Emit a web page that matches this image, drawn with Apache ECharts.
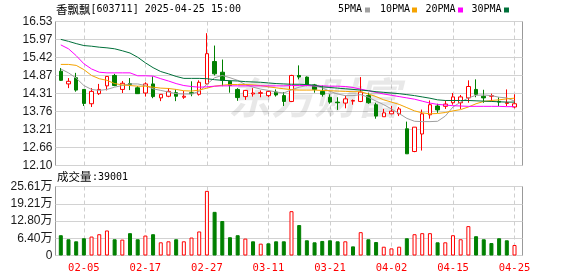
<!DOCTYPE html>
<html><head><meta charset="utf-8">
<script src="https://cdn.jsdelivr.net/npm/echarts@6/dist/echarts.min.js"></script>
<style>html,body{margin:0;padding:0;background:#fff}#c{width:578px;height:276px}</style>
</head><body><div id="c"></div><script>
const dates = ['01-23','01-24','01-27','02-05','02-06','02-07','02-10','02-11','02-12','02-13','02-14','02-17','02-18','02-19','02-20','02-21','02-24','02-25','02-26','02-27','02-28','03-03','03-04','03-05','03-06','03-07','03-10','03-11','03-12','03-13','03-14','03-17','03-18','03-19','03-20','03-21','03-24','03-25','03-26','03-27','03-28','03-31','04-01','04-02','04-03','04-07','04-08','04-09','04-10','04-11','04-14','04-15','04-16','04-17','04-18','04-21','04-22','04-23','04-24','04-25'];
const opens  = [15.00,14.61,14.80,14.44,14.00,14.31,14.55,14.87,14.44,14.62,14.49,14.33,14.61,14.18,14.23,14.34,14.20,14.34,14.29,14.61,15.30,14.97,14.69,14.44,14.22,14.30,14.32,14.25,14.36,14.25,14.07,14.87,14.82,14.58,14.38,14.20,14.05,14.02,14.08,14.07,14.25,13.97,13.60,13.69,13.69,13.23,12.53,13.07,13.66,13.93,13.92,14.03,14.03,14.18,14.44,14.23,14.23,14.07,14.01,13.90];
const closes = [14.72,14.69,14.42,14.01,14.38,14.44,14.84,14.56,14.63,14.59,14.31,14.61,14.22,14.29,14.38,14.23,14.23,14.31,14.66,15.54,14.92,14.72,14.56,14.19,14.41,14.33,14.34,14.38,14.27,14.07,14.87,14.82,14.59,14.44,14.29,14.05,14.03,14.15,14.10,14.36,14.03,13.62,13.72,13.77,13.84,12.46,13.28,13.69,13.97,13.81,13.99,14.21,14.21,14.53,14.29,14.18,14.25,14.05,14.03,14.00];
const lows   = [14.70,14.48,14.37,13.93,13.90,14.27,14.41,14.54,14.33,14.42,14.30,14.22,14.17,14.08,14.20,14.08,14.15,14.23,14.25,14.58,14.87,14.54,14.34,14.09,14.12,14.22,14.20,14.20,14.22,13.93,14.05,14.75,14.54,14.34,14.22,14.00,13.81,13.86,13.97,14.05,14.00,13.54,13.60,13.69,13.62,12.46,12.51,12.56,13.54,13.72,13.84,13.97,13.84,14.03,14.20,14.03,14.07,13.93,13.93,13.86];
const highs  = [15.10,14.79,14.95,14.45,14.48,14.61,14.85,14.92,14.70,14.79,14.54,14.66,14.84,14.30,14.48,14.44,14.39,14.69,14.72,16.17,15.79,15.36,14.70,14.48,14.42,14.48,14.41,14.41,14.44,14.36,14.89,15.18,14.84,14.61,14.56,14.29,14.20,14.25,14.13,14.82,14.34,14.03,13.84,13.93,13.90,13.45,13.28,13.82,14.10,14.00,14.10,14.33,14.27,14.72,14.75,14.43,14.31,14.20,14.44,14.29];
const ma5  = [15.07,14.95,14.79,14.56,14.44,14.41,14.44,14.51,14.56,14.61,14.61,14.56,14.46,14.41,14.36,14.31,14.30,14.30,14.38,14.60,14.80,14.87,14.80,14.72,14.59,14.51,14.45,14.41,14.36,14.33,14.43,14.51,14.56,14.55,14.49,14.38,14.30,14.25,14.25,14.28,14.20,14.08,13.97,13.84,13.70,13.55,13.46,13.45,13.45,13.46,13.62,13.90,14.05,14.18,14.26,14.27,14.25,14.20,14.18,14.08];
const ma10 = [15.21,15.21,15.18,15.05,14.87,14.77,14.72,14.62,14.58,14.56,14.54,14.54,14.51,14.48,14.47,14.44,14.40,14.39,14.42,14.48,14.54,14.57,14.59,14.59,14.59,14.58,14.56,14.52,14.49,14.46,14.43,14.42,14.42,14.42,14.41,14.40,14.39,14.38,14.37,14.37,14.30,14.22,14.12,14.05,13.98,13.88,13.78,13.72,13.69,13.70,13.73,13.78,13.82,13.90,14.00,14.07,14.10,14.12,14.15,14.17];
const ma20 = [15.81,15.69,15.48,15.23,15.07,14.97,14.95,14.95,14.95,14.95,14.86,14.86,14.85,14.77,14.70,14.62,14.56,14.53,14.51,14.52,14.54,14.55,14.55,14.55,14.55,14.55,14.55,14.55,14.55,14.55,14.56,14.56,14.56,14.55,14.55,14.54,14.54,14.53,14.50,14.45,14.40,14.35,14.30,14.26,14.22,14.18,14.14,14.08,14.02,13.98,13.96,13.94,13.93,13.92,13.92,13.92,13.92,13.92,13.91,13.91];
const ma30 = [15.98,15.92,15.85,15.79,15.77,15.74,15.72,15.69,15.63,15.56,15.43,15.26,15.11,14.99,14.92,14.84,14.78,14.78,14.78,14.77,14.74,14.72,14.71,14.70,14.68,14.67,14.66,14.64,14.62,14.61,14.60,14.60,14.59,14.57,14.52,14.50,14.48,14.46,14.44,14.42,14.40,14.37,14.35,14.33,14.31,14.28,14.25,14.21,14.17,14.12,14.10,14.10,14.10,14.10,14.09,14.08,14.07,14.06,14.05,14.05];
const volumes = [75300,60300,52700,64000,70300,79000,92900,60300,59000,82900,60300,74000,79000,49000,52700,60300,52700,66600,89200,239900,162000,128000,67800,75300,62800,52700,44000,45200,52700,52700,164500,113000,56500,49000,54000,56500,52700,52700,33900,86600,60300,50000,32600,26400,32600,64000,79000,82900,82900,49000,49000,75300,60300,109000,71600,60300,46300,64000,56500,39001];
const volUp = [0,0,0,0,1,1,1,0,1,0,0,1,0,1,1,0,1,1,1,1,0,0,0,0,1,0,1,0,0,0,1,0,0,0,0,0,0,1,0,1,0,0,1,1,1,0,1,1,1,0,1,1,1,1,0,0,0,0,0,1];
const priceTicks = ['12.10','12.66','13.21','13.76','14.31','14.87','15.42','15.97','16.53'];
const volTicks = ['0','6.40万','12.80万','19.21万','25.61万'];
const priceMin = 12.10, priceMax = 16.53, volMax = 256100;
const titleName = '香飘飘', titleRest = '[603711] 2025-04-25 15:00';
const maNames = ['5PMA','10PMA','20PMA','30PMA'];
const maColors = ['#a0a0a0','#f5a300','#ff00ff','#00703a'];
const maData = [ma5, ma10, ma20, ma30];

const RED = '#ff0000', GREEN = '#008000';
const mono = 'DejaVu Sans Mono';
const cjk = 'Noto Sans CJK SC';
const labelInterval = (i) => i % 8 === 3;

const chart = echarts.init(document.getElementById('c'), null, {renderer: 'canvas'});

const legendGraphics = [];
const legendX = [338, 380, 425.4, 471.5];
const swatchX = [365, 412, 458, 504];
maNames.forEach((n, k) => {
  legendGraphics.push({type: 'text', x: legendX[k], y: 9.5, style: {text: n, font: '10px "' + mono + '"', fill: '#000', verticalAlign: 'middle'}});
  legendGraphics.push({type: 'rect', shape: {x: swatchX[k], y: 7.5, width: 5, height: 5}, style: {fill: maColors[k]}});
});

chart.setOption({
  animation: false,
  backgroundColor: '#fff',
  graphic: [
    {type: 'text', x: 56, y: 9.5, style: {text: titleName, font: '11.5px "' + cjk + '"', fill: '#000', verticalAlign: 'middle'}},
    {type: 'text', x: 90.5, y: 9.5, style: {text: titleRest, font: '10px "' + mono + '"', fill: '#000', verticalAlign: 'middle'}},
    {type: 'text', x: 57, y: 177, style: {text: '成交量', font: '11.5px "' + cjk + '"', fill: '#000', verticalAlign: 'middle'}},
    {type: 'text', x: 92, y: 177, style: {text: ':' + volumes[volumes.length - 1], font: '10px "' + mono + '"', fill: '#000', verticalAlign: 'middle'}},
    {type: 'text', x: 228, y: 98, z: 1, style: {text: '东方财富', font: 'italic bold 43px "' + cjk + '"', fill: 'rgba(0,0,0,0.09)', verticalAlign: 'middle'}},
    ...legendGraphics
  ],
  grid: [
    {left: 55.5, top: 21.5, width: 467, height: 144, show: true, borderColor: '#999', borderWidth: 1, backgroundColor: 'transparent'},
    {left: 60.8, top: 21.5, width: 453.7, height: 144},
    {left: 55.5, top: 186.5, width: 467, height: 69, show: true, borderColor: '#999', borderWidth: 1, backgroundColor: 'transparent'},
    {left: 60.8, top: 186.5, width: 453.7, height: 69}
  ],
  xAxis: [
    {gridIndex: 0, type: 'value', min: 0, max: 1, show: false},
    {gridIndex: 1, type: 'category', data: dates, boundaryGap: false,
      axisLine: {show: false}, axisTick: {show: false}, axisLabel: {show: false},
      splitLine: {show: true, interval: labelInterval, lineStyle: {color: '#cfcfcf', type: [4, 3], width: 1}}},
    {gridIndex: 2, type: 'value', min: 0, max: 1, show: false},
    {gridIndex: 3, type: 'category', data: dates, boundaryGap: false,
      axisLine: {show: false}, axisTick: {show: false},
      axisLabel: {show: true, interval: labelInterval, color: RED, fontFamily: mono, fontSize: 10.5, margin: 7},
      splitLine: {show: true, interval: labelInterval, lineStyle: {color: '#cfcfcf', type: [4, 3], width: 1}}}
  ],
  yAxis: [
    {gridIndex: 0, type: 'value', min: 0, max: priceTicks.length - 1, interval: 1,
      axisLine: {show: false}, axisTick: {show: false},
      axisLabel: {formatter: (v) => priceTicks[Math.round(v)], color: '#1a1a1a', fontFamily: 'Liberation Sans', fontSize: 12, margin: 3},
      splitLine: {show: true, lineStyle: {color: '#d2d2d2', width: 1}}},
    {gridIndex: 1, type: 'value', min: priceMin, max: priceMax, show: false, scale: true},
    {gridIndex: 2, type: 'value', min: 0, max: volTicks.length - 1, interval: 1,
      axisLine: {show: false}, axisTick: {show: false},
      axisLabel: {formatter: (v) => volTicks[Math.round(v)], color: '#1a1a1a', fontFamily: 'Liberation Sans, "Noto Sans CJK SC"', fontSize: 12, margin: 3},
      splitLine: {show: true, lineStyle: {color: '#d2d2d2', width: 1}}},
    {gridIndex: 3, type: 'value', min: 0, max: volMax, show: false}
  ],
  series: [
    {type: 'candlestick', xAxisIndex: 1, yAxisIndex: 1, barWidth: 4, clip: false,
      data: dates.map((d, i) => [opens[i], closes[i], lows[i], highs[i]]),
      itemStyle: {color: '#ffffff', color0: GREEN, borderColor: RED, borderColor0: GREEN, borderWidth: 1}},
    ...maNames.map((n, k) => ({
      name: n, type: 'line', xAxisIndex: 1, yAxisIndex: 1, data: maData[k],
      symbol: 'none', showSymbol: false, clip: false, silent: true,
      lineStyle: {color: maColors[k], width: 1}
    })),
    {type: 'bar', xAxisIndex: 3, yAxisIndex: 3, barWidth: 4, clip: false,
      data: volumes.map((v, i) => ({value: v, itemStyle: volUp[i]
        ? {color: '#ffffff', borderColor: RED, borderWidth: 1}
        : {color: GREEN, borderColor: GREEN, borderWidth: 1}}))}
  ]
});
</script></body></html>
